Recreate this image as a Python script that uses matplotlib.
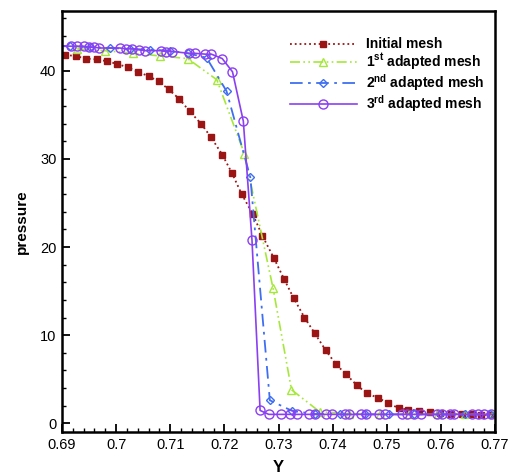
import matplotlib
matplotlib.use("Agg")
import matplotlib.pyplot as plt
from matplotlib.ticker import MultipleLocator, FuncFormatter

plt.rcParams['font.family'] = ['Liberation Sans', 'DejaVu Sans']
plt.rcParams['mathtext.fontset'] = 'custom'
plt.rcParams['mathtext.rm'] = 'Liberation Sans:bold'
plt.rcParams['mathtext.bf'] = 'Liberation Sans:bold'

# Initial mesh
x0 = [0.6906, 0.6925, 0.6944, 0.6964, 0.6983, 0.7001, 0.7022, 0.7040, 0.7060, 0.7079,
      0.7097, 0.7117, 0.7136, 0.7157, 0.7175, 0.7196, 0.7214, 0.7232, 0.7252, 0.7270,
      0.7291, 0.7310, 0.7328, 0.7348, 0.7367, 0.7387, 0.7406, 0.7424, 0.7445, 0.7463,
      0.7483, 0.7502, 0.7522, 0.7540, 0.7559, 0.7579, 0.7598, 0.7618, 0.7639, 0.7657,
      0.7675, 0.7695]
y0 = [41.8, 41.7, 41.4, 41.3, 41.1, 40.8, 40.4, 39.9, 39.4, 38.8,
      37.9, 36.8, 35.4, 34.0, 32.5, 30.5, 28.4, 26.0, 23.8, 21.3,
      18.8, 16.4, 14.2, 12.0, 10.2, 8.3, 6.7, 5.6, 4.3, 3.4,
      2.9, 2.3, 1.7, 1.55, 1.4, 1.3, 1.2, 1.05, 1.0, 1.0,
      0.95, 0.9]

# 1st adapted mesh
x1 = [0.6885, 0.6927, 0.6979, 0.7031, 0.7081, 0.7132, 0.7186, 0.7237, 0.7290, 0.7324,
      0.7376, 0.7431, 0.7487, 0.7542, 0.7594, 0.7645, 0.7697]
y1 = [42.6, 42.5, 42.3, 42.0, 41.7, 41.4, 39.0, 30.6, 15.3, 3.8,
      1.3, 1.1, 1.0, 1.0, 1.0, 1.0, 1.0]

# 2nd adapted mesh
x2 = [0.6885, 0.6914, 0.6951, 0.6988, 0.7025, 0.7062, 0.7099, 0.7132, 0.7167, 0.7204,
      0.7248, 0.7284, 0.7325, 0.7367, 0.7413, 0.7459, 0.7505, 0.7551, 0.7598, 0.7644,
      0.7690]
y2 = [42.8, 42.8, 42.7, 42.6, 42.5, 42.4, 42.3, 42.0, 41.5, 37.7,
      27.9, 2.6, 1.4, 1.05, 1.0, 1.0, 1.0, 1.0, 1.0, 1.0,
      1.0]

# 3rd adapted mesh
x3 = [0.6885, 0.6916, 0.6927, 0.6940, 0.6950, 0.6959, 0.6969, 0.7007, 0.7018, 0.7030,
      0.7042, 0.7053, 0.7082, 0.7092, 0.7104, 0.7134, 0.7145, 0.7165, 0.7176, 0.7196,
      0.7215, 0.7235, 0.7251, 0.7266,
      0.7282, 0.7304, 0.7321, 0.7335, 0.7357, 0.7368, 0.7387, 0.7398, 0.7422, 0.7431,
      0.7453, 0.7462, 0.7486, 0.7496, 0.7529, 0.7538, 0.7551, 0.7564, 0.7592, 0.7603,
      0.7616, 0.7625, 0.7658, 0.7668, 0.7680, 0.7693]
y3 = [42.9, 42.8, 42.8, 42.8, 42.7, 42.7, 42.6, 42.6, 42.5, 42.5,
      42.4, 42.3, 42.3, 42.2, 42.2, 42.0, 42.0, 41.9, 41.9, 41.4,
      39.9, 34.3, 20.8, 1.45,
      1.0, 1.0, 1.0, 1.0, 1.0, 1.0, 1.0, 1.0, 1.0, 1.0,
      1.0, 1.0, 1.0, 1.0, 1.0, 1.0, 1.0, 1.0, 1.0, 1.0,
      1.0, 1.0, 1.0, 1.0, 1.0, 1.0]

labels = ['Initial mesh', r'1$^{\mathbf{st}}$ adapted mesh',
          r'2$^{\mathbf{nd}}$ adapted mesh', r'3$^{\mathbf{rd}}$ adapted mesh']
xticks = [0.69, 0.70, 0.71, 0.72, 0.73, 0.74, 0.75, 0.76, 0.77]
yticks = [0, 10, 20, 30, 40]

c0 = '#9b1515'
c1 = '#a6e83a'
c2 = '#3f6ff0'
c3 = '#8a3ff2'

fig = plt.figure(figsize=(5.11, 4.76), dpi=100)
ax = fig.add_axes([62 / 511, 1 - 432 / 476, 433 / 511, 421 / 476])

ax.plot(x0, y0, color=c0, ls=':', lw=1.3, marker='s', ms=4.5, mfc=c0, mec=c0,
        label=labels[0])
ax.plot(x1, y1, color=c1, ls=(0, (6, 2, 1, 2, 1, 2)), lw=1.2, marker='^', ms=6,
        mfc='none', mec=c1, mew=1.0, label=labels[1])
ax.plot(x2, y2, color=c2, ls=(0, (7, 3, 1.5, 3)), lw=1.3, marker='D', ms=4.5,
        mfc='none', mec=c2, mew=1.0, label=labels[2])
ax.plot(x3, y3, color=c3, ls='-', lw=1.2, marker='o', ms=6.5, mfc='none', mec=c3,
        mew=1.0, label=labels[3])

ax.set_xlim(0.69, 0.77)
ax.set_ylim(-1.0, 46.8)
ax.set_xticks(xticks)
ax.set_yticks(yticks)
ax.xaxis.set_major_formatter(FuncFormatter(lambda v, p: '%g' % round(v, 4)))
ax.xaxis.set_minor_locator(MultipleLocator(0.002))
ax.yaxis.set_minor_locator(MultipleLocator(2))
ax.tick_params(which='both', direction='in', top=False, right=False,
               labelsize=10.5, width=1.3, pad=4)
ax.tick_params(which='major', length=6)
ax.tick_params(which='minor', length=3, width=1.0)
for s in ax.spines.values():
    s.set_linewidth(1.8)

ax.set_xlabel('Y', fontsize=12, fontweight='bold', labelpad=6)
ax.set_ylabel('pressure', fontsize=11, fontweight='bold', labelpad=8)

leg = ax.legend(loc='upper right', bbox_to_anchor=(1.005, 0.967), frameon=False,
                numpoints=1, handlelength=4.8, handletextpad=0.7,
                labelspacing=0.0, prop={'weight': 'bold', 'size': 10})

fig.savefig('out.png', dpi=100)
